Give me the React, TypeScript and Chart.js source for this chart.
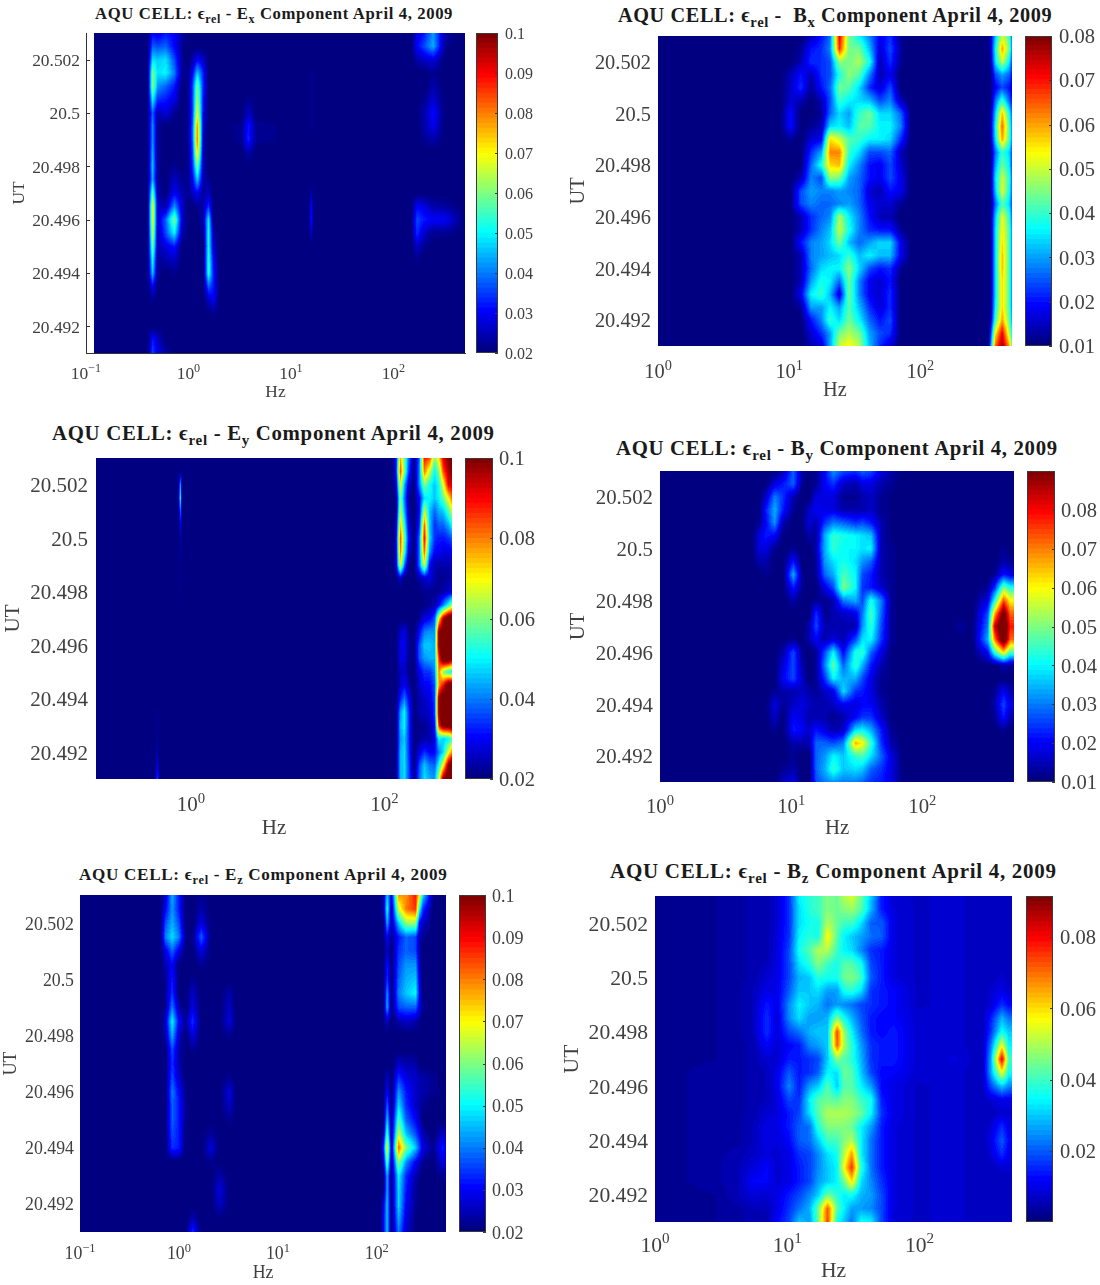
import { useEffect, useRef } from "react";
import { Chart, registerables } from "chart.js";

Chart.register(...registerables);

const SERIF = '"Liberation Serif", serif';
const TEXT = "#404040";

// UT rows, top of the plot to the bottom
const TIMES = [
  20.503, 20.5025, 20.502, 20.5015, 20.501, 20.5005, 20.5, 20.4995, 20.499, 20.4985, 20.498, 20.4975, 20.497,
  20.4965, 20.496, 20.4955, 20.495, 20.4945, 20.494, 20.4935, 20.493, 20.4925, 20.492, 20.4915, 20.491,
];
const UT_TICKS = [20.492, 20.494, 20.496, 20.498, 20.5, 20.502];
const HZ_FULL = [0.1, 1, 10, 100];
const HZ_NO_TENTH = [1, 10, 100];
const HZ_EVEN = [1, 100];
const HZ_EXPONENTS: Record<string, string> = { "0.1": "−1", "1": "0", "10": "1", "100": "2" };

// all grids below: one line per frequency, values in thousandths
const FLAT20 = [20, 20, 20, 20, 20, 20, 20, 20, 20, 20, 20, 20, 20, 20, 20, 20, 20, 20, 20, 20, 20, 20, 20, 20, 20];
const FLAT10 = [10, 10, 10, 10, 10, 10, 10, 10, 10, 10, 10, 10, 10, 10, 10, 10, 10, 10, 10, 10, 10, 10, 10, 10, 10];

const EX_FREQS = [0.12, 0.4, 0.447, 0.5, 0.6, 0.73, 0.87, 1.0, 1.1, 1.22, 1.4, 1.57, 1.75, 2.0, 3.3, 3.85, 4.6, 14.8, 15.8, 16.8, 150, 170, 200, 245, 320, 420, 500];
const EX_GRID = [
  FLAT20,
  FLAT20,
  [30, 38, 48, 60, 62, 50, 38, 42, 42, 44, 46, 44, 58, 70, 70, 66, 60, 52, 46, 30, 22, 20, 20, 32, 36],
  [28, 36, 46, 48, 42, 34, 24, 22, 22, 22, 22, 22, 24, 26, 26, 24, 24, 22, 22, 20, 20, 20, 20, 26, 28],
  [32, 38, 48, 50, 38, 32, 28, 20, 20, 20, 20, 20, 20, 24, 38, 36, 28, 24, 20, 20, 20, 20, 20, 20, 24],
  [30, 30, 36, 40, 32, 28, 22, 20, 20, 20, 22, 26, 30, 42, 60, 50, 32, 26, 22, 20, 20, 20, 20, 20, 20],
  [24, 22, 22, 22, 20, 20, 20, 20, 20, 20, 20, 22, 24, 26, 26, 24, 20, 20, 20, 20, 20, 20, 20, 20, 20],
  [20, 20, 20, 22, 22, 22, 22, 22, 22, 22, 22, 22, 22, 20, 20, 20, 20, 20, 20, 20, 20, 20, 20, 20, 20],
  [20, 20, 24, 30, 36, 36, 36, 38, 38, 36, 34, 30, 26, 20, 20, 20, 20, 20, 20, 20, 20, 20, 20, 20, 20],
  [20, 20, 30, 46, 60, 64, 70, 80, 82, 74, 60, 46, 30, 22, 20, 20, 20, 20, 20, 20, 20, 20, 20, 20, 20],
  [20, 20, 26, 32, 32, 30, 28, 26, 24, 24, 24, 24, 22, 24, 24, 22, 20, 20, 20, 20, 20, 20, 20, 20, 20],
  [20, 20, 20, 20, 20, 20, 20, 20, 20, 20, 20, 22, 26, 34, 50, 52, 52, 54, 54, 38, 26, 20, 20, 20, 20],
  [20, 20, 20, 20, 20, 20, 20, 20, 20, 20, 20, 20, 20, 20, 20, 24, 26, 30, 32, 32, 30, 22, 20, 20, 20],
  FLAT20,
  [20, 20, 20, 20, 20, 20, 20, 22, 22, 20, 20, 20, 20, 20, 20, 20, 20, 20, 20, 20, 20, 20, 20, 20, 20],
  [20, 20, 20, 20, 20, 22, 26, 32, 33, 24, 20, 20, 20, 20, 20, 20, 20, 20, 20, 20, 20, 20, 20, 20, 20],
  [20, 20, 20, 20, 20, 20, 20, 22, 22, 20, 20, 20, 20, 20, 20, 20, 20, 20, 20, 20, 20, 20, 20, 20, 20],
  FLAT20,
  [20, 20, 20, 22, 22, 22, 22, 22, 20, 20, 20, 20, 24, 30, 32, 26, 20, 20, 20, 20, 20, 20, 20, 20, 20],
  FLAT20,
  FLAT20,
  [28, 30, 24, 20, 20, 20, 20, 20, 20, 20, 20, 20, 20, 30, 36, 34, 26, 22, 20, 20, 20, 20, 20, 20, 20],
  [32, 36, 26, 20, 20, 22, 24, 24, 22, 20, 20, 20, 20, 28, 32, 26, 22, 20, 20, 20, 20, 20, 20, 20, 20],
  [42, 44, 28, 22, 24, 27, 31, 29, 24, 20, 20, 20, 20, 24, 30, 22, 20, 20, 20, 20, 20, 20, 20, 20, 20],
  [24, 22, 20, 20, 20, 20, 20, 20, 20, 20, 20, 20, 20, 23, 30, 22, 20, 20, 20, 20, 20, 20, 20, 20, 20],
  [20, 20, 20, 20, 20, 20, 20, 20, 20, 20, 20, 20, 20, 21, 24, 21, 20, 20, 20, 20, 20, 20, 20, 20, 20],
  FLAT20,
];

const BX_FREQS = [1, 8.55, 10.2, 12.3, 14.7, 17.6, 20.5, 24.2, 28.6, 34.3, 41, 49.3, 59, 70.9, 85, 330, 341, 373, 421, 476, 500];
const BX_GRID = [
  FLAT10,
  FLAT10,
  [10, 10, 10, 14, 15, 16, 20, 20, 12, 10, 10, 10, 10, 10, 10, 10, 10, 10, 10, 10, 10, 10, 10, 10, 10],
  [10, 12, 14, 20, 22, 14, 10, 10, 10, 10, 10, 14, 24, 24, 14, 14, 20, 14, 14, 14, 18, 12, 10, 10, 10],
  [14, 20, 22, 14, 12, 10, 10, 12, 16, 22, 26, 28, 30, 28, 22, 22, 28, 28, 26, 30, 36, 30, 20, 16, 14],
  [20, 22, 22, 22, 20, 14, 12, 14, 18, 30, 38, 24, 28, 26, 26, 28, 30, 30, 34, 38, 40, 30, 28, 22, 16],
  [26, 28, 24, 24, 26, 24, 26, 34, 56, 62, 56, 46, 28, 26, 28, 32, 34, 32, 36, 36, 32, 36, 40, 30, 30],
  [72, 68, 46, 38, 44, 40, 34, 36, 50, 62, 58, 44, 30, 28, 48, 50, 44, 34, 36, 26, 16, 30, 34, 44, 50],
  [44, 44, 44, 46, 42, 36, 30, 32, 42, 40, 36, 30, 28, 30, 36, 38, 32, 40, 46, 44, 44, 42, 44, 48, 54],
  [36, 44, 48, 42, 34, 34, 40, 42, 40, 34, 28, 26, 26, 26, 28, 28, 26, 32, 34, 28, 28, 32, 36, 44, 48],
  [28, 32, 38, 28, 22, 32, 44, 42, 36, 24, 20, 20, 16, 18, 20, 22, 30, 36, 24, 18, 18, 22, 26, 30, 32],
  [18, 16, 14, 14, 16, 24, 34, 36, 36, 24, 18, 18, 14, 16, 14, 20, 34, 32, 20, 16, 16, 16, 20, 24, 22],
  [22, 24, 22, 18, 24, 28, 34, 36, 34, 26, 24, 24, 20, 16, 14, 20, 34, 32, 22, 20, 22, 22, 24, 22, 16],
  [12, 12, 12, 10, 10, 14, 26, 28, 22, 14, 16, 18, 18, 12, 10, 12, 18, 18, 12, 10, 10, 10, 10, 10, 10],
  FLAT10,
  FLAT10,
  [14, 14, 12, 10, 10, 10, 12, 12, 12, 10, 10, 10, 10, 10, 10, 10, 10, 10, 10, 10, 10, 10, 12, 18, 24],
  [32, 36, 34, 24, 18, 26, 32, 36, 34, 26, 30, 34, 32, 26, 32, 34, 34, 34, 34, 34, 34, 36, 40, 54, 64],
  [50, 60, 50, 30, 24, 40, 58, 64, 60, 40, 44, 50, 52, 42, 52, 54, 56, 58, 58, 56, 56, 56, 60, 72, 78],
  [42, 44, 36, 26, 20, 26, 38, 42, 42, 34, 36, 40, 38, 34, 40, 42, 42, 42, 42, 42, 42, 42, 44, 50, 60],
  [26, 28, 24, 20, 16, 20, 26, 28, 28, 24, 24, 26, 26, 24, 26, 28, 28, 28, 28, 28, 28, 28, 30, 36, 44],
];

const EY_FREQS = [0.104, 0.42, 0.447, 0.475, 0.74, 0.775, 0.81, 120, 132, 146, 161, 179, 203, 229, 259, 293, 331, 366, 407, 460, 503];
const EY_GRID = [
  FLAT20,
  FLAT20,
  [20, 20, 20, 20, 20, 20, 20, 20, 20, 20, 20, 20, 20, 20, 20, 20, 20, 20, 20, 22, 22, 23, 24, 28, 36],
  FLAT20,
  FLAT20,
  [20, 22, 44, 52, 38, 30, 24, 24, 22, 23, 22, 21, 20, 20, 20, 20, 20, 20, 20, 20, 20, 20, 20, 20, 20],
  FLAT20,
  FLAT20,
  [30, 30, 26, 20, 20, 24, 26, 26, 26, 20, 20, 20, 20, 20, 20, 20, 20, 20, 20, 20, 20, 20, 21, 21, 21],
  [76, 84, 70, 60, 66, 74, 84, 80, 70, 26, 20, 20, 20, 26, 28, 28, 26, 26, 32, 42, 44, 42, 44, 44, 44],
  [58, 60, 44, 40, 44, 52, 58, 54, 40, 20, 20, 20, 20, 28, 30, 28, 26, 30, 40, 50, 50, 46, 48, 48, 48],
  [38, 34, 26, 22, 24, 26, 30, 26, 20, 20, 20, 20, 20, 22, 22, 22, 22, 24, 30, 34, 34, 34, 34, 36, 36],
  [20, 20, 20, 20, 20, 20, 20, 20, 20, 20, 20, 20, 20, 20, 21, 20, 20, 20, 20, 20, 20, 20, 20, 20, 22],
  [38, 40, 40, 30, 28, 32, 38, 38, 38, 24, 20, 20, 22, 30, 36, 36, 28, 26, 24, 24, 22, 22, 28, 36, 38],
  [88, 80, 60, 48, 66, 82, 90, 82, 68, 26, 22, 21, 28, 40, 46, 42, 34, 30, 26, 26, 22, 24, 34, 46, 48],
  [84, 66, 52, 50, 46, 46, 48, 42, 30, 28, 22, 22, 30, 42, 46, 44, 34, 30, 28, 26, 24, 24, 30, 40, 44],
  [60, 50, 46, 46, 38, 34, 34, 30, 24, 24, 22, 24, 36, 42, 44, 44, 40, 36, 34, 34, 30, 28, 30, 38, 42],
  [72, 60, 52, 50, 44, 38, 32, 30, 24, 22, 22, 30, 70, 100, 100, 86, 80, 78, 100, 100, 88, 50, 40, 52, 66],
  [92, 84, 68, 58, 46, 38, 32, 28, 24, 22, 24, 40, 96, 105, 110, 110, 60, 90, 110, 110, 105, 46, 48, 70, 100],
  [100, 96, 92, 70, 56, 44, 34, 28, 24, 23, 26, 52, 110, 110, 110, 110, 52, 110, 110, 110, 105, 50, 68, 100, 110],
  [100, 100, 92, 82, 66, 52, 38, 30, 26, 24, 28, 64, 110, 110, 110, 100, 50, 110, 110, 110, 110, 56, 80, 110, 110],
];

const BY_FREQS = [1, 5.05, 5.7, 6.4, 7.5, 8.7, 10.4, 12.1, 13.7, 15.5, 18, 21, 25, 31, 35, 40.6, 48.7, 58, 72, 158, 195, 241, 316, 357, 417, 468];
const BY_GRID = [
  FLAT10,
  FLAT10,
  [10, 10, 10, 10, 12, 18, 18, 14, 10, 10, 10, 10, 10, 10, 10, 10, 10, 10, 10, 10, 10, 10, 10, 10, 10],
  [10, 10, 16, 22, 20, 22, 18, 14, 12, 10, 10, 10, 10, 10, 10, 10, 10, 10, 10, 10, 10, 10, 10, 10, 10],
  [10, 18, 30, 34, 32, 20, 12, 10, 10, 10, 10, 10, 10, 10, 10, 10, 10, 12, 18, 16, 12, 10, 10, 10, 10],
  [14, 22, 24, 22, 14, 10, 10, 10, 10, 10, 10, 10, 10, 10, 14, 18, 20, 14, 12, 10, 10, 10, 10, 12, 16],
  [28, 28, 14, 12, 10, 10, 12, 22, 34, 22, 14, 10, 10, 12, 26, 26, 26, 14, 16, 20, 22, 14, 12, 14, 18],
  [14, 12, 10, 10, 10, 10, 10, 10, 12, 12, 10, 10, 10, 10, 12, 14, 16, 16, 18, 18, 20, 14, 10, 10, 10],
  [10, 10, 10, 16, 18, 14, 10, 10, 10, 10, 10, 10, 14, 14, 10, 10, 10, 14, 16, 14, 16, 14, 10, 10, 10],
  [12, 12, 18, 20, 14, 12, 14, 12, 12, 10, 12, 24, 26, 20, 12, 12, 12, 12, 14, 14, 22, 28, 28, 28, 26],
  [20, 20, 18, 18, 24, 34, 34, 32, 28, 18, 12, 12, 14, 14, 26, 30, 24, 16, 14, 14, 18, 28, 32, 34, 30],
  [32, 24, 18, 18, 30, 44, 44, 38, 34, 26, 14, 14, 14, 18, 40, 48, 40, 18, 16, 12, 14, 26, 40, 44, 32],
  [26, 16, 12, 14, 28, 42, 40, 42, 46, 50, 30, 16, 14, 14, 20, 28, 34, 38, 20, 14, 16, 30, 36, 36, 30],
  [24, 14, 12, 14, 24, 40, 40, 38, 40, 40, 34, 18, 14, 26, 42, 44, 34, 24, 18, 20, 38, 66, 44, 38, 30],
  [28, 18, 14, 14, 26, 38, 38, 32, 26, 24, 26, 30, 32, 38, 44, 34, 26, 22, 20, 24, 40, 60, 46, 36, 28],
  [26, 18, 16, 16, 22, 36, 40, 28, 22, 22, 42, 46, 44, 40, 28, 22, 18, 18, 20, 24, 34, 44, 38, 28, 24],
  [18, 14, 12, 12, 14, 14, 14, 14, 14, 16, 30, 28, 26, 24, 18, 14, 12, 12, 14, 16, 22, 24, 28, 24, 22],
  [14, 12, 11, 11, 11, 11, 12, 12, 12, 12, 12, 12, 12, 12, 11, 11, 11, 11, 11, 11, 12, 14, 18, 18, 18],
  FLAT10,
  FLAT10,
  [10, 10, 10, 10, 10, 10, 10, 10, 10, 10, 10, 10, 13, 10, 10, 10, 10, 10, 10, 10, 10, 10, 10, 10, 10],
  FLAT10,
  [10, 10, 10, 10, 10, 10, 10, 10, 10, 12, 18, 26, 30, 34, 20, 10, 10, 10, 10, 10, 10, 10, 10, 10, 10],
  [10, 10, 10, 10, 10, 10, 10, 10, 12, 24, 42, 66, 84, 70, 44, 10, 10, 12, 14, 12, 10, 10, 10, 10, 10],
  [10, 10, 10, 10, 10, 10, 12, 14, 22, 50, 74, 95, 100, 100, 62, 14, 10, 20, 26, 22, 12, 10, 10, 10, 10],
  [10, 10, 10, 10, 10, 10, 10, 12, 18, 42, 60, 72, 78, 72, 46, 12, 10, 14, 18, 14, 10, 10, 10, 10, 10],
];

const EZ_FREQS = [0.1, 0.65, 0.73, 0.855, 1.0, 1.17, 1.37, 1.68, 2.11, 2.57, 3.26, 3.8, 108, 117, 127, 141, 166, 197, 247, 270, 292, 370, 460, 500];
const EZ_GRID = [
  FLAT20,
  FLAT20,
  [26, 30, 36, 40, 28, 24, 22, 22, 22, 26, 24, 20, 20, 20, 20, 20, 20, 20, 20, 20, 20, 20, 20, 20, 20],
  [44, 42, 44, 48, 38, 30, 32, 34, 40, 50, 44, 36, 34, 36, 40, 38, 38, 36, 34, 20, 20, 20, 20, 20, 20],
  [32, 32, 36, 40, 28, 20, 20, 20, 24, 30, 26, 24, 24, 26, 30, 32, 32, 32, 32, 20, 20, 20, 20, 20, 20],
  [20, 20, 20, 22, 20, 20, 20, 20, 20, 22, 20, 20, 20, 20, 22, 22, 22, 20, 20, 20, 20, 20, 20, 20, 20],
  [20, 20, 20, 20, 20, 20, 22, 26, 28, 34, 28, 22, 20, 20, 20, 20, 20, 20, 20, 20, 20, 20, 20, 24, 34],
  [22, 24, 28, 38, 28, 22, 20, 20, 20, 20, 20, 20, 20, 20, 20, 20, 20, 20, 20, 20, 20, 20, 20, 20, 20],
  [20, 20, 20, 20, 20, 20, 20, 20, 20, 20, 20, 20, 20, 20, 20, 20, 20, 23, 28, 22, 20, 20, 20, 20, 20],
  [20, 20, 20, 20, 20, 20, 20, 20, 20, 20, 20, 20, 20, 20, 20, 20, 20, 20, 20, 20, 24, 28, 26, 21, 20],
  [20, 20, 20, 20, 20, 20, 20, 24, 26, 28, 22, 20, 20, 22, 28, 26, 22, 20, 20, 20, 20, 20, 20, 20, 20],
  FLAT20,
  FLAT20,
  [24, 24, 20, 20, 20, 20, 20, 20, 20, 20, 20, 20, 20, 20, 20, 20, 20, 24, 34, 26, 20, 20, 28, 30, 30],
  [46, 52, 44, 30, 26, 32, 34, 42, 44, 26, 20, 20, 20, 26, 30, 38, 46, 56, 70, 58, 44, 44, 46, 46, 46],
  [28, 24, 24, 22, 20, 20, 20, 20, 20, 20, 20, 20, 20, 20, 20, 20, 22, 22, 24, 22, 20, 20, 20, 20, 20],
  [78, 66, 46, 32, 34, 36, 38, 40, 36, 24, 20, 20, 26, 34, 42, 48, 56, 66, 82, 62, 50, 48, 48, 44, 40],
  [78, 80, 62, 38, 38, 42, 44, 46, 38, 26, 20, 20, 24, 28, 32, 34, 38, 46, 60, 42, 34, 32, 30, 28, 26],
  [88, 86, 62, 36, 36, 42, 46, 50, 38, 24, 20, 20, 24, 26, 26, 26, 30, 36, 46, 30, 24, 22, 22, 21, 21],
  [70, 52, 30, 24, 24, 26, 28, 30, 28, 22, 20, 20, 20, 24, 25, 24, 25, 30, 36, 26, 22, 21, 21, 20, 20],
  [48, 34, 26, 22, 20, 20, 20, 20, 22, 20, 20, 20, 20, 24, 24, 22, 20, 24, 28, 22, 20, 20, 20, 20, 20],
  [22, 20, 20, 20, 20, 20, 20, 20, 20, 20, 20, 20, 20, 22, 22, 20, 20, 20, 22, 20, 20, 20, 20, 20, 20],
  [20, 20, 20, 20, 20, 20, 20, 20, 20, 20, 20, 20, 20, 20, 21, 20, 20, 26, 32, 28, 22, 20, 20, 20, 20],
  [20, 20, 20, 20, 20, 20, 20, 20, 20, 20, 20, 20, 20, 20, 20, 20, 20, 24, 30, 26, 22, 20, 20, 20, 20],
];

const BZ_FREQS = [1, 2.85, 4.3, 5.5, 7, 8.4, 10.3, 12.3, 14.8, 17.1, 20.2, 23.8, 26.8, 30.8, 36.2, 43, 51.8, 63.8, 97, 187, 300, 345, 420, 473];
const BZ_GRID = [
  [2, 2, 2, 2, 2, 2, 2, 2, 2, 2, 2, 2, 2, 2, 2, 2, 2, 2, 2, 2, 2, 2, 2, 2, 2],
  [3, 3, 3, 3, 3, 3, 3, 3, 3, 3, 3, 3, 3, 4, 4, 4, 4, 4, 4, 4, 4, 4, 3, 3, 3],
  [4, 4, 4, 4, 4, 4, 4, 4, 4, 4, 4, 4, 4, 4, 4, 4, 4, 4, 4, 5, 6, 6, 6, 4, 4],
  [5, 5, 5, 5, 5, 5, 5, 6, 6, 6, 6, 5, 5, 5, 5, 5, 5, 6, 6, 7, 9, 12, 9, 6, 5],
  [5, 5, 5, 5, 5, 6, 8, 10, 14, 16, 16, 12, 8, 6, 6, 6, 8, 10, 10, 9, 12, 12, 8, 6, 5],
  [8, 8, 8, 9, 9, 10, 10, 10, 10, 8, 9, 8, 8, 10, 10, 9, 9, 10, 9, 8, 8, 8, 10, 10, 12],
  [16, 16, 16, 16, 18, 18, 18, 20, 24, 24, 18, 12, 14, 20, 24, 18, 14, 14, 12, 10, 10, 10, 14, 16, 18],
  [34, 32, 32, 34, 36, 32, 28, 30, 34, 32, 22, 14, 14, 14, 14, 16, 18, 20, 20, 16, 14, 14, 18, 22, 30],
  [38, 38, 36, 38, 42, 38, 30, 30, 30, 26, 28, 24, 16, 16, 26, 34, 32, 22, 22, 18, 18, 18, 24, 28, 26],
  [40, 40, 36, 36, 50, 46, 38, 32, 28, 26, 30, 26, 18, 20, 30, 42, 42, 38, 30, 24, 24, 26, 30, 44, 44],
  [46, 46, 50, 58, 50, 40, 36, 26, 22, 28, 30, 30, 30, 34, 42, 44, 50, 46, 40, 32, 30, 30, 44, 72, 74],
  [44, 44, 44, 42, 40, 36, 36, 26, 26, 46, 74, 72, 46, 32, 30, 42, 50, 46, 40, 36, 34, 34, 38, 42, 36],
  [50, 46, 40, 34, 34, 42, 44, 36, 24, 36, 48, 50, 42, 44, 42, 46, 50, 46, 46, 50, 56, 44, 34, 34, 30],
  [54, 48, 40, 30, 32, 42, 46, 38, 22, 28, 34, 38, 38, 42, 42, 46, 48, 44, 50, 66, 76, 60, 36, 26, 22],
  [44, 42, 32, 26, 24, 36, 40, 32, 18, 20, 22, 26, 28, 30, 34, 40, 44, 34, 34, 34, 38, 32, 28, 26, 36],
  [30, 28, 20, 22, 16, 18, 20, 16, 16, 14, 14, 16, 16, 18, 26, 36, 34, 26, 22, 22, 22, 24, 26, 24, 34],
  [14, 14, 20, 20, 14, 14, 14, 14, 14, 12, 12, 14, 14, 12, 12, 14, 16, 14, 14, 14, 14, 16, 18, 18, 18],
  [8, 9, 9, 9, 9, 9, 9, 12, 12, 12, 14, 14, 14, 12, 10, 10, 10, 9, 9, 9, 9, 9, 9, 9, 8],
  [7, 7, 7, 7, 7, 7, 7, 7, 7, 8, 8, 8, 8, 8, 7, 7, 7, 7, 7, 7, 7, 7, 7, 7, 7],
  [8, 8, 8, 8, 8, 8, 8, 8, 8, 8, 8, 8, 9, 8, 8, 8, 8, 8, 8, 8, 8, 8, 8, 8, 8],
  [6, 6, 6, 6, 6, 6, 6, 6, 6, 6, 6, 6, 6, 6, 6, 6, 6, 6, 6, 6, 6, 6, 6, 6, 6],
  [6, 6, 6, 6, 6, 6, 6, 8, 8, 14, 16, 22, 26, 26, 18, 8, 6, 8, 10, 8, 6, 6, 6, 6, 6],
  [6, 6, 6, 6, 6, 6, 8, 10, 16, 28, 36, 56, 82, 56, 30, 10, 8, 16, 20, 16, 8, 6, 6, 6, 6],
  [6, 6, 6, 6, 6, 6, 6, 8, 12, 22, 30, 34, 40, 36, 24, 10, 8, 10, 12, 10, 8, 6, 6, 6, 6],
];

const BAR_E10 = [0.02, 0.03, 0.04, 0.05, 0.06, 0.07, 0.08, 0.09, 0.1];
const BAR_EY = [0.02, 0.04, 0.06, 0.08, 0.1];
const BAR_BX = [0.01, 0.02, 0.03, 0.04, 0.05, 0.06, 0.07, 0.08];
const BAR_BZ = [0.02, 0.04, 0.06, 0.08];

const PANELS = [
  { comp: "E", sub: "x", gap: " ", freqs: EX_FREQS, grid: EX_GRID, hzMin: 0.1, hzTicks: HZ_FULL, vmin: 0.02, vmax: 0.1, barTicks: BAR_E10, frame: true,
    l: 86, r: 465, t: 33, b: 353, barL: 476, barR: 498, utX: 19, hzY: 393, tickY: 373, font: 17.4, barFont: 16, yPad: 6, barPad: 7,
    titleX: 95, titleY: 14, titleFont: 16.7, titleLs: 0.62 },
  { comp: "B", sub: "x", gap: "  ", freqs: BX_FREQS, grid: BX_GRID, hzMin: 1, hzTicks: HZ_NO_TENTH, vmin: 0.01, vmax: 0.08, barTicks: BAR_BX,
    l: 658, r: 1012, t: 36, b: 346, barL: 1025, barR: 1052, utX: 578, hzY: 391, tickY: 371, font: 20.4, barFont: 20.5, yPad: 7, barPad: 7,
    titleX: 618, titleY: 15, titleFont: 20.3, titleLs: 0.6 },
  { comp: "E", sub: "y", gap: " ", freqs: EY_FREQS, grid: EY_GRID, hzMin: 0.104, hzTicks: HZ_EVEN, vmin: 0.02, vmax: 0.1, barTicks: BAR_EY,
    l: 96, r: 452, t: 458, b: 779, barL: 465, barR: 493, utX: 14, hzY: 828, tickY: 804, font: 21, barFont: 20.5, yPad: 8, barPad: 6,
    titleX: 52, titleY: 433, titleFont: 20.8, titleLs: 0.69 },
  { comp: "B", sub: "y", gap: " ", freqs: BY_FREQS, grid: BY_GRID, hzMin: 1, hzTicks: HZ_NO_TENTH, vmin: 0.01, vmax: 0.09, barTicks: BAR_BX,
    l: 660, r: 1014, t: 471, b: 782, barL: 1027, barR: 1055, utX: 578, hzY: 829, tickY: 806, font: 20.8, barFont: 20.5, yPad: 7, barPad: 6,
    titleX: 616, titleY: 448, titleFont: 20.8, titleLs: 0.67 },
  { comp: "E", sub: "z", gap: " ", freqs: EZ_FREQS, grid: EZ_GRID, hzMin: 0.1, hzTicks: HZ_FULL, vmin: 0.02, vmax: 0.1, barTicks: BAR_E10,
    l: 80, r: 446, t: 895, b: 1232, barL: 459, barR: 486, utX: 12, hzY: 1273, tickY: 1253, font: 17.8, barFont: 18, yPad: 6, barPad: 6,
    titleX: 79, titleY: 875, titleFont: 17.1, titleLs: 0.69 },
  { comp: "B", sub: "z", gap: " ", freqs: BZ_FREQS, grid: BZ_GRID, hzMin: 1, hzTicks: HZ_NO_TENTH, vmin: 0.0002, vmax: 0.0915, barTicks: BAR_BZ,
    l: 655, r: 1012, t: 896, b: 1222, barL: 1026, barR: 1053, utX: 572, hzY: 1271, tickY: 1245, font: 21.6, barFont: 20.5, yPad: 7, barPad: 7,
    titleX: 610, titleY: 872, titleFont: 21, titleLs: 0.71 },
];

type Panel = (typeof PANELS)[number];

function jet(t: number) {
  const level = Math.min(63, Math.max(0, Math.floor(t * 64))) / 63;
  const part = (c: number) => Math.round(255 * Math.min(1, Math.max(0, 1.5 - Math.abs(4 * level - c))));
  return [part(3), part(2), part(1)];
}

function findSegment(stops: number[], p: number) {
  let k = 0;
  while (k < stops.length - 2 && p > stops[k + 1]) k++;
  const f = (p - stops[k]) / (stops[k + 1] - stops[k]);
  return [k, Math.min(1, Math.max(0, f))];
}

// shades the plot area from the grid, cell corners placed by the chart's scales
function heatPlugin(p: Panel) {
  return {
    id: "heat",
    beforeDatasetsDraw(chart: any) {
      const { ctx, chartArea: area, scales } = chart;
      const xs = p.freqs.map((f) => scales.x.getPixelForValue(f));
      const ys = TIMES.map((t) => scales.y.getPixelForValue(t));
      const left = Math.max(area.left, xs[0]);
      const width = area.right - left;
      const height = area.bottom - area.top;
      const dpr = chart.currentDevicePixelRatio || 1;
      const w = Math.round(width * dpr);
      const h = Math.round(height * dpr);
      const off = document.createElement("canvas");
      off.width = w;
      off.height = h;
      const octx = off.getContext("2d")!;
      const img = octx.createImageData(w, h);
      const colSegs = [];
      for (let i = 0; i < w; i++) colSegs.push(findSegment(xs, left + (i + 0.5) / dpr));
      let n = 0;
      for (let j = 0; j < h; j++) {
        const [r, fy] = findSegment(ys, area.top + (j + 0.5) / dpr);
        for (let i = 0; i < w; i++) {
          const [c, fx] = colSegs[i];
          const top = p.grid[c][r] * (1 - fx) + p.grid[c + 1][r] * fx;
          const bot = p.grid[c][r + 1] * (1 - fx) + p.grid[c + 1][r + 1] * fx;
          const v = (top * (1 - fy) + bot * fy) / 1000;
          const rgb = jet((v - p.vmin) / (p.vmax - p.vmin));
          img.data[n++] = rgb[0];
          img.data[n++] = rgb[1];
          img.data[n++] = rgb[2];
          img.data[n++] = 255;
        }
      }
      octx.putImageData(img, 0, 0);
      ctx.save();
      // the source figures are slightly soft
      ctx.filter = "blur(0.6px)";
      ctx.drawImage(off, left, area.top, width, height);
      ctx.filter = "none";
      if (p.frame) {
        ctx.strokeStyle = "#333";
        ctx.lineWidth = 1;
        for (const t of UT_TICKS) {
          const y = Math.round(scales.y.getPixelForValue(t)) + 0.5;
          ctx.beginPath();
          ctx.moveTo(area.left, y);
          ctx.lineTo(area.left + 4, y);
          ctx.stroke();
        }
      }
      ctx.restore();
    },
  };
}

// 10 with a raised exponent, chart.js tick labels cannot do this
function hzLabelPlugin(p: Panel) {
  return {
    id: "hzLabels",
    afterDraw(chart: any) {
      const { ctx, scales } = chart;
      const canvasTop = chart.canvas.getBoundingClientRect().top;
      const base = p.tickY - canvasTop + p.font * 0.33;
      const big = `${p.font}px ${SERIF}`;
      const small = `${p.font * 0.7}px ${SERIF}`;
      ctx.save();
      ctx.fillStyle = TEXT;
      ctx.textAlign = "left";
      ctx.textBaseline = "alphabetic";
      for (const v of p.hzTicks) {
        const exp = HZ_EXPONENTS[String(v)];
        ctx.font = big;
        const w1 = ctx.measureText("10").width;
        ctx.font = small;
        const w2 = ctx.measureText(exp).width;
        const x = scales.x.getPixelForValue(v) - (w1 + w2) / 2;
        ctx.fillText(exp, x + w1, base - p.font * 0.4);
        ctx.font = big;
        ctx.fillText("10", x, base);
      }
      ctx.restore();
    },
  };
}

function barFrame(p: Panel) {
  return {
    id: "barFrame",
    afterDraw(chart: any) {
      const { ctx, chartArea: a, scales } = chart;
      ctx.save();
      ctx.strokeStyle = "#3a3a3a";
      ctx.lineWidth = 1;
      ctx.strokeRect(a.left + 0.5, a.top + 0.5, a.right - a.left - 1, a.bottom - a.top - 1);
      for (const t of p.barTicks) {
        const y = Math.round(scales.y.getPixelForValue(t)) + 0.5;
        ctx.beginPath();
        ctx.moveTo(a.right - 3, y);
        ctx.lineTo(a.right, y);
        ctx.stroke();
      }
      ctx.restore();
    },
  };
}

function HeatPanel({ p }: { p: Panel }) {
  const plotRef = useRef<HTMLCanvasElement>(null);
  const barRef = useRef<HTMLCanvasElement>(null);

  const lineH = p.font * 1.2;
  const pad = 30;
  const canvasL = Math.round(p.utX - lineH / 2);
  const canvasB = Math.round(p.hzY + lineH / 2);
  const canvasT = p.t - pad;
  const canvasR = p.r + pad;
  const barW = 50;

  useEffect(() => {
    if (!plotRef.current || !barRef.current) return;

    const tickFont = { family: SERIF, size: p.font };
    const cells: { x: number; y: number; v: number }[] = [];
    p.freqs.forEach((f, c) => TIMES.forEach((t, r) => cells.push({ x: f, y: t, v: p.grid[c][r] / 1000 })));

    const plot = new Chart(plotRef.current, {
      type: "scatter",
      data: { datasets: [{ data: cells, pointRadius: 0, pointHitRadius: 0 }] },
      plugins: [heatPlugin(p), hzLabelPlugin(p)],
      options: {
        responsive: false,
        animation: false,
        layout: { autoPadding: false, padding: { top: pad, right: pad, left: 0, bottom: 0 } },
        plugins: { legend: { display: false }, tooltip: { enabled: false } },
        scales: {
          x: {
            type: "logarithmic",
            min: p.hzMin,
            max: 500,
            grid: { display: false, drawTicks: false },
            border: { display: !!p.frame, color: "#333" },
            afterFit: (s: any) => {
              s.height = canvasB - p.b;
            },
            ticks: { display: false },
            title: { display: true, text: "Hz", color: TEXT, font: tickFont, padding: 0 },
          },
          y: {
            min: 20.491,
            max: 20.503,
            grid: { display: false, drawTicks: false },
            border: { display: !!p.frame, color: "#333" },
            afterBuildTicks: (s: any) => {
              s.ticks = UT_TICKS.map((v) => ({ value: v }));
            },
            afterFit: (s: any) => {
              s.width = p.l - canvasL;
            },
            ticks: { autoSkip: false, padding: p.yPad, labelOffset: 1.8, color: TEXT, font: tickFont, callback: (v: any) => String(v) },
            title: { display: true, text: "UT", color: TEXT, font: tickFont, padding: 0 },
          },
        },
      },
    } as any);

    // colour bar, one floating bar per colormap level
    const step = (p.vmax - p.vmin) / 64;
    const levels = [];
    for (let i = 0; i < 64; i++) {
      const lo = p.vmin + i * step;
      const rgb = jet((i + 0.5) / 64);
      levels.push({
        data: [[Math.max(p.vmin, lo - step), lo + step]],
        backgroundColor: `rgb(${rgb[0]},${rgb[1]},${rgb[2]})`,
        grouped: false,
        barPercentage: 1,
        categoryPercentage: 1,
        borderWidth: 0,
      });
    }
    const bar = new Chart(barRef.current, {
      type: "bar",
      data: { labels: ["level"], datasets: levels },
      plugins: [barFrame(p)],
      options: {
        responsive: false,
        animation: false,
        layout: { autoPadding: false, padding: { top: pad, bottom: pad, left: 0, right: 0 } },
        plugins: { legend: { display: false }, tooltip: { enabled: false } },
        scales: {
          x: { display: false },
          y: {
            position: "right",
            min: p.vmin,
            max: p.vmax,
            grid: { display: false, drawTicks: false },
            border: { display: false },
            afterBuildTicks: (s: any) => {
              s.ticks = p.barTicks.map((v) => ({ value: v }));
            },
            afterFit: (s: any) => {
              s.width = barW;
            },
            ticks: {
              autoSkip: false,
              padding: p.barPad,
              labelOffset: 1.8,
              color: TEXT,
              font: { family: SERIF, size: p.barFont },
              callback: (v: any) => String(v),
            },
          },
        },
      },
    } as any);

    return () => {
      plot.destroy();
      bar.destroy();
    };
  }, []);

  return (
    <>
      <div
        style={{
          position: "absolute",
          left: p.titleX,
          top: p.titleY - p.titleFont * 0.6,
          fontFamily: SERIF,
          fontWeight: "bold",
          fontSize: p.titleFont,
          letterSpacing: p.titleLs,
          lineHeight: 1.2,
          color: "#1a1a1a",
          whiteSpace: "pre",
        }}
      >
        AQU CELL: ϵ
        <sub style={{ fontSize: "0.72em", lineHeight: 0 }}>rel</sub>
        {" -" + p.gap + p.comp}
        <sub style={{ fontSize: "0.72em", lineHeight: 0 }}>{p.sub}</sub>
        {" Component April 4, 2009"}
      </div>
      <canvas
        ref={plotRef}
        width={canvasR - canvasL}
        height={canvasB - canvasT}
        style={{ position: "absolute", left: canvasL, top: canvasT, width: canvasR - canvasL, height: canvasB - canvasT }}
      />
      <canvas
        ref={barRef}
        width={p.barR - p.barL + barW}
        height={p.b - p.t + 2 * pad}
        style={{ position: "absolute", left: p.barL, top: canvasT, width: p.barR - p.barL + barW, height: p.b - p.t + 2 * pad }}
      />
    </>
  );
}

export default function App() {
  return (
    <div style={{ position: "absolute", left: 0, top: 0, width: 1100, height: 1285, background: "#fff", overflow: "hidden" }}>
      {PANELS.map((p, i) => (
        <HeatPanel key={i} p={p} />
      ))}
    </div>
  );
}
